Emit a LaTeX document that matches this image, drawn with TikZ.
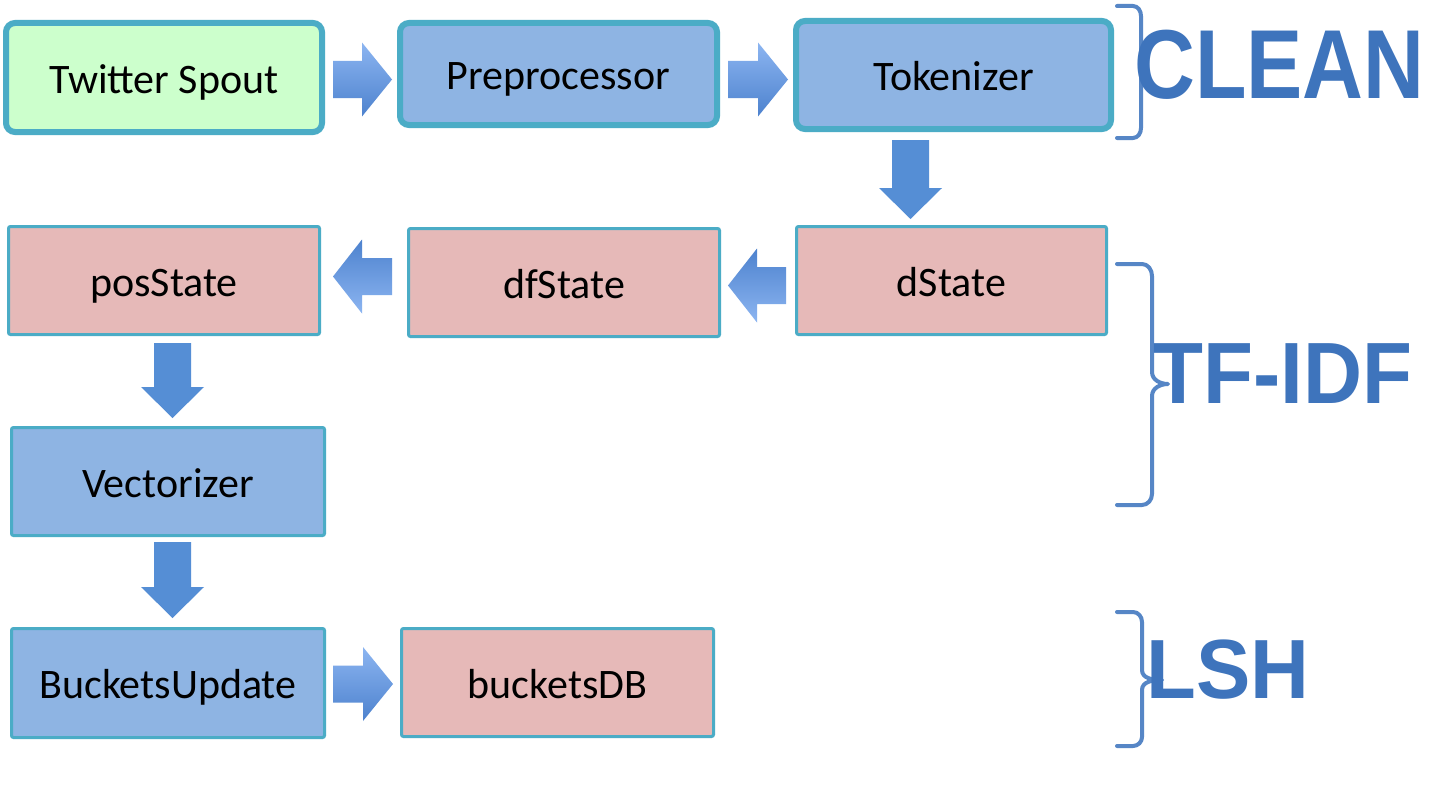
\documentclass[tikz,border=0pt]{standalone}
\usepackage{fontspec}
\setmainfont{Carlito}
\newfontfamily\labfont{Liberation Sans}
\usetikzlibrary{calc}
\definecolor{bord}{HTML}{4BACC6}
\definecolor{spoutgreen}{HTML}{CCFFCC}
\definecolor{boxblue}{HTML}{8EB4E3}
\definecolor{boxpink}{HTML}{E6B9B8}
\definecolor{arrlight}{HTML}{8CB5F1}
\definecolor{arrdark}{HTML}{4D82CE}
\definecolor{arrsolid}{HTML}{558ED5}
\definecolor{bracecol}{HTML}{5686C6}
\definecolor{labcol}{HTML}{3E74BC}
\tikzset{
  box/.style={draw=bord, inner sep=0pt, text=black, font=\fontsize{42}{50}\selectfont,
    text height=31pt, text depth=0pt},
  thickbox/.style={box, line width=6pt, rounded corners=9pt},
  thinbox/.style={box, line width=3pt, rounded corners=2pt},
  greenfill/.style={fill=spoutgreen},
  bluefill/.style={fill=boxblue},
  pinkfill/.style={fill=boxpink},
  rshade/.style={top color=arrlight, bottom color=arrdark, draw=none},
  lshade/.style={top color=arrdark, bottom color=arrlight, draw=none},
  dshade/.style={fill=arrsolid, draw=none},
  bracestyle/.style={draw=bracecol, line width=4pt, line cap=round, line join=round},
  lab/.style={inner sep=0pt, text=labcol, anchor=west},
}
% right block arrow from #1 to #2: #3 vertical offset (down), #4 tail gap, #5 tip gap
\newcommand{\rarrowdraw}[5]{%
  \path[rshade] let \p1=($(#1.east)+(#4,#3)$), \p2=($(#2.west)+(-#5,0)$) in
    (\x1,\y1+18.5pt) -- (\x2-30pt,\y1+18.5pt) -- (\x2-30pt,\y1+37pt) -- (\x2,\y1)
    -- (\x2-30pt,\y1-37pt) -- (\x2-30pt,\y1-18.5pt) -- (\x1,\y1-18.5pt) -- cycle;}
% left block arrow from #1 (right node) to #2 (left node)
\newcommand{\larrowdraw}[5]{%
  \path[lshade] let \p1=($(#1.west)+(-#4,#3)$), \p2=($(#2.east)+(#5,0)$) in
    (\x1,\y1+18.5pt) -- (\x2+29pt,\y1+18.5pt) -- (\x2+29pt,\y1+37pt) -- (\x2,\y1)
    -- (\x2+29pt,\y1-37pt) -- (\x2+29pt,\y1-18.5pt) -- (\x1,\y1-18.5pt) -- cycle;}
% down block arrow from #1 to #2: #3 horizontal offset, #4 tail gap, #5 tip gap
\newcommand{\darrowdraw}[5]{%
  \path[dshade] let \p1=($(#1.south)+(#3,#4)$), \p2=($(#2.north)+(0,-#5)$) in
    (\x1-18.5pt,\y1) -- (\x1-18.5pt,\y2+31pt) -- (\x1-31.5pt,\y2+31pt) -- (\x1,\y2)
    -- (\x1+31.5pt,\y2+31pt) -- (\x1+18.5pt,\y2+31pt) -- (\x1+18.5pt,\y1) -- cycle;}
\begin{document}
\begin{tikzpicture}[x=1pt,y=-1pt]
\useasboundingbox[fill=white] (0,0) rectangle (1429,792);

% boxes
\node[thickbox, greenfill, minimum width=316pt, minimum height=109pt] (ts) at (164,77.5) {Twitter Spout};
\node[thickbox, bluefill, minimum width=317pt, minimum height=102pt] (pre) at (558.5,74) {Preprocessor};
\node[thickbox, bluefill, minimum width=315pt, minimum height=108pt] (tok) at (953.5,75) {Tokenizer};
\node[thinbox, pinkfill, minimum width=310pt, minimum height=108pt] (ds) at (951.5,280.5) {dState};
\node[thinbox, pinkfill, minimum width=311pt, minimum height=108pt] (dfs) at (564,282.5) {dfState};
\node[thinbox, pinkfill, minimum width=311pt, minimum height=108pt] (pos) at (164,280.5) {posState};
\node[thinbox, bluefill, minimum width=313pt, minimum height=108pt] (vec) at (168,481.5) {Vectorizer};
\node[thinbox, bluefill, minimum width=313pt, minimum height=109pt] (bu) at (168,683) {BucketsUpdate};
\node[thinbox, pinkfill, minimum width=312pt, minimum height=108pt] (bdb) at (557.5,682.5) {bucketsDB};

% block arrows
\rarrowdraw{ts}{pre}{2}{8}{5}
\rarrowdraw{pre}{tok}{5.5}{8}{5}
\darrowdraw{tok}{ds}{-43}{8}{6}
\larrowdraw{ds}{dfs}{5}{9}{7}
\larrowdraw{dfs}{pos}{-6}{15}{12}
\darrowdraw{pos}{vec}{8.5}{7}{8}
\darrowdraw{vec}{bu}{4.5}{5}{9}
\rarrowdraw{bu}{bdb}{1}{7}{7}

% braces
\draw[bracestyle] (1117,6) -- (1133,6) to[out=0,in=90] (1141,16) -- (1141,128) to[out=-90,in=0] (1133,138) -- (1117,138);
\draw[bracestyle] (1117,264) -- (1142,264) to[out=0,in=90] (1152,276) -- (1152,372)
  to[out=-90,in=180] (1168,384) to[out=180,in=90] (1152,396) -- (1152,494) to[out=-90,in=0] (1142,505) -- (1117,505);
\draw[bracestyle] (1117,612) -- (1133,612) to[out=0,in=90] (1142,622) -- (1142,670)
  to[out=-90,in=180] (1162,680) to[out=180,in=90] (1142,690) -- (1142,737) to[out=-90,in=0] (1133,746) -- (1117,746);

% labels
\node[lab] (clean) at (1134,65) {\labfont\bfseries\fontsize{98}{98}\selectfont\scalebox{0.86}[1]{CLEAN}};
\node[lab] (tfidf) at (1153,374) {\labfont\bfseries\fontsize{87}{87}\selectfont\scalebox{0.94}[1]{TF-IDF}};
\node[lab] (lsh) at (1146,670) {\labfont\bfseries\fontsize{84}{84}\selectfont\scalebox{0.97}[1]{LSH}};
\end{tikzpicture}
\end{document}
